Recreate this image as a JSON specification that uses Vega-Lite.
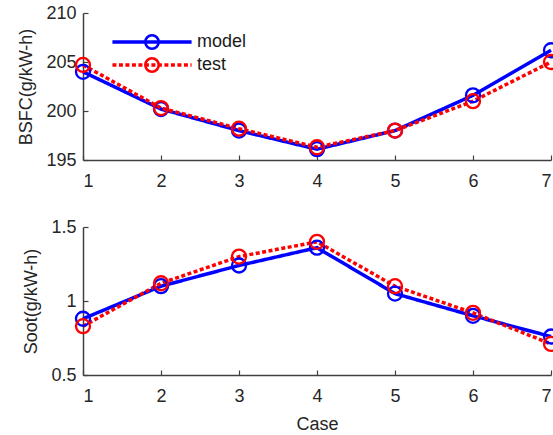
{
  "$schema": "https://vega.github.io/schema/vega-lite/v6.json",
  "padding": {"left": 17, "top": 4, "right": 0, "bottom": 5},
  "background": "white",
  "config": {
    "font": "Liberation Sans",
    "view": {"stroke": null},
    "axis": {
      "grid": false,
      "domainColor": "#404040",
      "domainWidth": 1.5,
      "tickColor": "#404040",
      "tickWidth": 1.2,
      "tickSize": -5,
      "labelFont": "Liberation Sans",
      "labelFontSize": 18,
      "labelColor": "#262626",
      "titleFont": "Liberation Sans",
      "titleFontSize": 18,
      "titleFontWeight": "normal",
      "titleColor": "#262626"
    },
    "axisX": {"labelPadding": 17, "titlePadding": 10},
    "axisY": {"labelPadding": 12, "titlePadding": 10}
  },
  "data": {
    "values": [
      {"case": 1, "series": "model", "bsfc": 204.0, "soot": 0.88},
      {"case": 2, "series": "model", "bsfc": 200.2, "soot": 1.10},
      {"case": 3, "series": "model", "bsfc": 198.0, "soot": 1.24},
      {"case": 4, "series": "model", "bsfc": 196.1, "soot": 1.36},
      {"case": 5, "series": "model", "bsfc": 198.0, "soot": 1.05},
      {"case": 6, "series": "model", "bsfc": 201.6, "soot": 0.90},
      {"case": 7, "series": "model", "bsfc": 206.2, "soot": 0.76},
      {"case": 1, "series": "test", "bsfc": 204.7, "soot": 0.83},
      {"case": 2, "series": "test", "bsfc": 200.3, "soot": 1.12},
      {"case": 3, "series": "test", "bsfc": 198.2, "soot": 1.30},
      {"case": 4, "series": "test", "bsfc": 196.3, "soot": 1.40},
      {"case": 5, "series": "test", "bsfc": 198.0, "soot": 1.10},
      {"case": 6, "series": "test", "bsfc": 201.0, "soot": 0.92},
      {"case": 7, "series": "test", "bsfc": 205.0, "soot": 0.71}
    ]
  },
  "bounds": "flush",
  "spacing": 67,
  "vconcat": [
    {
      "width": 468,
      "height": 147,
      "encoding": {
        "x": {"field": "case", "type": "quantitative", "scale": {"domain": [1, 7]}, "axis": {"values": [1, 2, 3, 4, 5, 6, 7], "title": null}},
        "y": {"field": "bsfc", "type": "quantitative", "scale": {"domain": [195, 210], "zero": false}, "axis": {"values": [195, 200, 205, 210], "title": "BSFC(g/kW-h)"}},
        "color": {
          "field": "series", "type": "nominal",
          "scale": {"domain": ["model", "test"], "range": ["#0000ff", "#ff0000"]},
          "legend": {"orient": "none", "legendX": 60, "legendY": 20, "title": null, "symbolType": "circle", "symbolSize": 180, "symbolStrokeWidth": 2.5, "labelFontSize": 18, "labelColor": "#1a1a1a", "labelOffset": 36, "rowPadding": 5, "encode": {"symbols": {"update": {"fill": {"value": "transparent"}, "strokeJoin": {"value": "round"}}}}}
        }
      },
      "layer": [
        {
          "mark": {"type": "line", "strokeWidth": 3.5},
          "encoding": {
            "strokeDash": {"field": "series", "type": "nominal", "scale": {"range": [[1, 0], [4, 2.5]]},
              "legend": {"orient": "none", "legendX": 60, "legendY": 20, "title": null, "symbolType": "M -5.9 0 L 5.9 0 M 0 -0.85 L 0 -0.85 M 0 0.85 L 0 0.85", "symbolSize": 180, "symbolStrokeWidth": 3.5, "labelFontSize": 18, "labelOffset": 36, "rowPadding": 5, "labelExpr": "''", "encode": {"symbols": {"update": {"fill": {"value": "transparent"}, "strokeJoin": {"value": "round"}, "stroke": {"signal": "datum.value === 'model' ? '#0000ff' : '#ff0000'"}}}}}}
          }
        },
        {"mark": {"type": "point", "shape": "circle", "filled": false, "size": 196, "strokeWidth": 2.3, "opacity": 1}}
      ]
    },
    {
      "width": 468,
      "height": 148,
      "encoding": {
        "x": {"field": "case", "type": "quantitative", "scale": {"domain": [1, 7]}, "axis": {"values": [1, 2, 3, 4, 5, 6, 7], "title": "Case"}},
        "y": {"field": "soot", "type": "quantitative", "scale": {"domain": [0.5, 1.5], "zero": false}, "axis": {"values": [0.5, 1, 1.5], "format": "~g", "title": "Soot(g/kW-h)"}},
        "color": {
          "field": "series", "type": "nominal",
          "scale": {"domain": ["model", "test"], "range": ["#0000ff", "#ff0000"]},
          "legend": {"orient": "none", "legendX": 60, "legendY": 20, "title": null, "symbolType": "circle", "symbolSize": 180, "symbolStrokeWidth": 2.5, "labelFontSize": 18, "labelColor": "#1a1a1a", "labelOffset": 36, "rowPadding": 5, "encode": {"symbols": {"update": {"fill": {"value": "transparent"}, "strokeJoin": {"value": "round"}}}}}
        }
      },
      "layer": [
        {
          "mark": {"type": "line", "strokeWidth": 3.5},
          "encoding": {
            "strokeDash": {"field": "series", "type": "nominal", "scale": {"range": [[1, 0], [4, 2.5]]},
              "legend": {"orient": "none", "legendX": 60, "legendY": 20, "title": null, "symbolType": "M -5.9 0 L 5.9 0 M 0 -0.85 L 0 -0.85 M 0 0.85 L 0 0.85", "symbolSize": 180, "symbolStrokeWidth": 3.5, "labelFontSize": 18, "labelOffset": 36, "rowPadding": 5, "labelExpr": "''", "encode": {"symbols": {"update": {"fill": {"value": "transparent"}, "strokeJoin": {"value": "round"}, "stroke": {"signal": "datum.value === 'model' ? '#0000ff' : '#ff0000'"}}}}}}
          }
        },
        {"mark": {"type": "point", "shape": "circle", "filled": false, "size": 196, "strokeWidth": 2.3, "opacity": 1}}
      ]
    }
  ]
}
